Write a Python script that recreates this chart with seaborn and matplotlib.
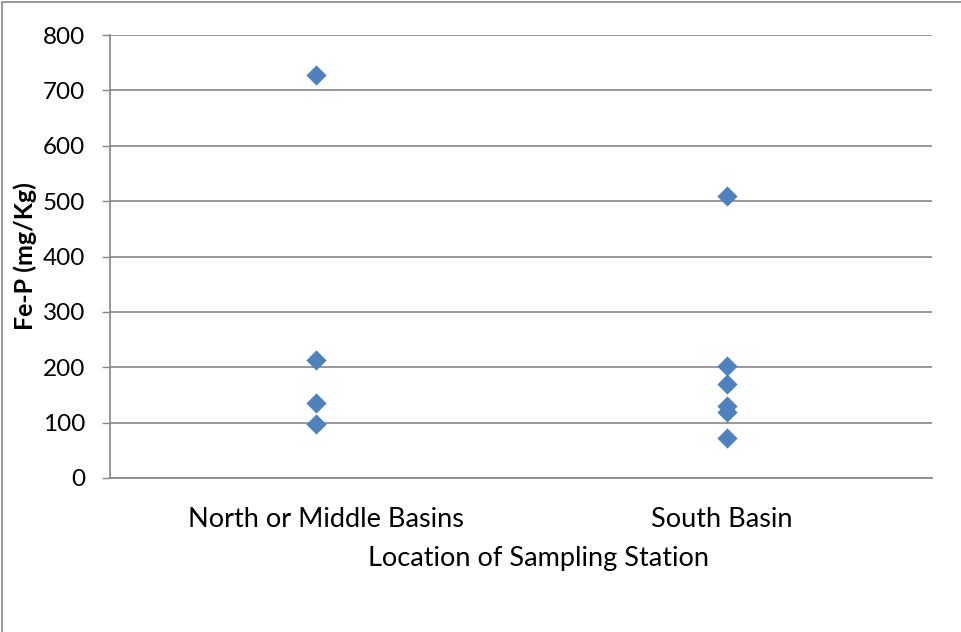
import matplotlib
matplotlib.use("Agg")
import matplotlib.pyplot as plt
import seaborn as sns
import pandas as pd
from matplotlib.patches import Rectangle
from matplotlib.transforms import ScaledTranslation

# Fe-P concentrations by basin location
north_values = [727, 213, 136, 98]
south_values = [510, 203, 169, 130, 119, 73]
categories = ["North or Middle Basins", "South Basin"]
y_ticks = [0, 100, 200, 300, 400, 500, 600, 700, 800]

df = pd.DataFrame({
    "location": [categories[0]] * len(north_values) + [categories[1]] * len(south_values),
    "fep": north_values + south_values,
})

sns.set_theme(style="white")
plt.rcParams["font.family"] = ["Lato", "DejaVu Sans"]
plt.rcParams["text.color"] = "black"
plt.rcParams["axes.labelcolor"] = "black"
plt.rcParams["xtick.color"] = "black"
plt.rcParams["ytick.color"] = "black"

fig = plt.figure(figsize=(9.61, 6.32), dpi=100)
ax = fig.add_axes([110 / 961, 1 - 478 / 632, (932 - 110) / 961, (478 - 35) / 632])

sns.stripplot(data=df, x="location", y="fep", order=categories, jitter=False,
              marker="D", size=10.3, color="#4F81BD", linewidth=0, ax=ax, zorder=3)

ax.set_xlim(-0.5, 1.5)
ax.set_ylim(0, 800)
ax.set_yticks(y_ticks)
ax.set_yticklabels([str(v) for v in y_ticks], fontsize=17.5)
ax.tick_params(axis="x", labelsize=19.5, length=0, pad=21)
ax.tick_params(axis="y", length=6, width=1, color="#868686", left=True, pad=12)
ax.yaxis.grid(True, color="#868686", linewidth=1.2)
ax.set_axisbelow(True)

# nudge category labels sideways the way the spreadsheet lays them out
for lbl, dx in zip(ax.get_xticklabels(), [10, -5]):
    lbl.set_transform(lbl.get_transform() + ScaledTranslation(dx / 100, 0, fig.dpi_scale_trans))

for side in ["top", "right"]:
    ax.spines[side].set_visible(False)
for side in ["left", "bottom"]:
    ax.spines[side].set_color("#868686")
    ax.spines[side].set_linewidth(1.2)

ax.set_xlabel("Location of Sampling Station", fontsize=19.5, labelpad=10)
ax.xaxis.label.set_x((538 - 110) / 822)
ax.set_ylabel("Fe-P (mg/Kg)", fontsize=18, fontweight="bold", labelpad=4)

# chart area border
fig.patches.append(Rectangle((2 / 961, -0.1), 1.2, 1 - 2 / 632 + 0.1, transform=fig.transFigure,
                             fill=False, edgecolor="#868686", linewidth=1.2))

fig.savefig("out.png", dpi=100)
